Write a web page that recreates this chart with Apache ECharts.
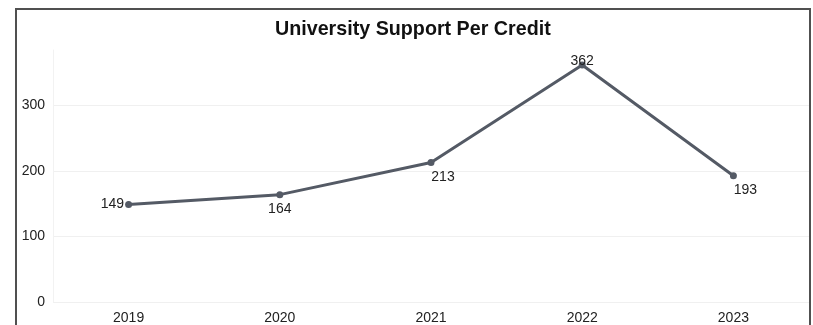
<!DOCTYPE html>
<html>
<head>
<meta charset="utf-8">
<script src="https://cdn.jsdelivr.net/npm/echarts@6/dist/echarts.min.js"></script>
<style>
html,body{margin:0;padding:0;background:#fff;}
#c{width:813px;height:325px;}
</style>
</head>
<body>
<div id="c"></div>
<script>
const titleText = "University Support Per Credit";
const years = ["2019", "2020", "2021", "2022", "2023"];
const supportPerCredit = [149, 164, 213, 362, 193];
const labelPositions = ["left", "bottom", "bottom", "top", "bottom"];
const labelOffsets = [[2, 0], [0, 1], [12, 1], [0, 10], [12, 1]];
const yTicks = [0, 100, 200, 300];

const chart = echarts.init(document.getElementById('c'), null, {renderer: 'canvas'});
chart.setOption({
  animation: false,
  backgroundColor: '#fff',
  textStyle: {fontFamily: 'Liberation Sans, Arial, sans-serif'},
  title: {
    text: titleText,
    left: 270,
    top: 15,
    textStyle: {fontSize: 19.7, fontWeight: 'bold', color: '#111', fontFamily: 'Liberation Sans, Arial, sans-serif'}
  },
  graphic: [{
    type: 'rect',
    shape: {x: 16, y: 9, width: 794, height: 330},
    style: {fill: 'none', stroke: '#505050', lineWidth: 2},
    silent: true,
    z: 100
  }],
  grid: {left: 53, right: 4, top: 50, bottom: 21, containLabel: false},
  xAxis: {
    type: 'category',
    data: years,
    boundaryGap: true,
    axisLine: {show: false},
    axisTick: {show: false},
    axisLabel: {color: '#222', fontSize: 14, margin: 9}
  },
  yAxis: {
    type: 'value',
    min: 0,
    max: 385,
    interval: 100,
    axisLine: {show: true, lineStyle: {color: '#f2f2f2', width: 1}},
    axisTick: {show: false},
    axisLabel: {color: '#222', fontSize: 14, margin: 8, showMaxLabel: false,
      formatter: v => yTicks.includes(v) ? String(v) : ''},
    splitLine: {show: true, showMaxLine: false, lineStyle: {color: '#f0f0f0', width: 1}}
  },
  series: [{
    type: 'line',
    data: supportPerCredit.map((v, i) => ({
      value: v,
      label: {position: labelPositions[i], offset: labelOffsets[i]}
    })),
    symbol: 'circle',
    symbolSize: 7,
    lineStyle: {color: '#545a65', width: 3},
    itemStyle: {color: '#545a65'},
    label: {show: true, color: '#222', fontSize: 14, distance: 3},
    z: 10
  }]
});
</script>
</body>
</html>
